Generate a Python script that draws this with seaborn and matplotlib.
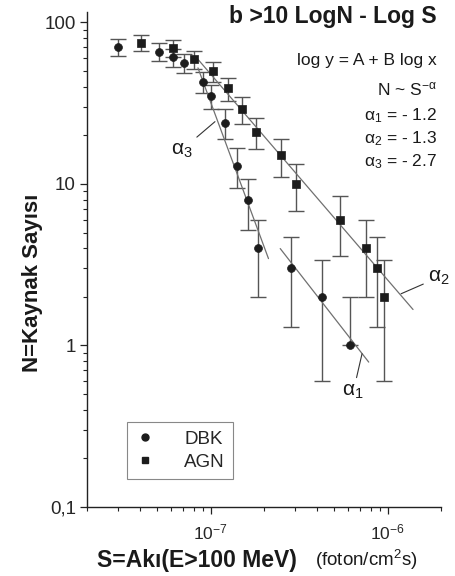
import numpy as np
import pandas as pd
import matplotlib
matplotlib.use("Agg")
import matplotlib.pyplot as plt
import seaborn as sns
from matplotlib.lines import Line2D
from matplotlib.ticker import FixedLocator, FixedFormatter, LogLocator, NullFormatter

# ---------------- data ----------------
dbk_S = [3.0e-8, 5.1e-8, 6.1e-8, 7.1e-8, 9.1e-8, 1.0e-7, 1.21e-7, 1.41e-7, 1.63e-7, 1.86e-7, 2.84e-7, 4.25e-7, 6.1e-7]
dbk_N = [70, 66, 61, 56, 43, 35, 24, 13, 8, 4, 3, 2, 1]
dbk_err_lo = [8.4, 8.1, 7.8, 7.5, 6.6, 5.9, 4.9, 3.6, 2.8, 2.0, 1.7, 1.4, 0.0]
dbk_err_hi = [8.4, 8.1, 7.8, 7.5, 6.6, 5.9, 4.9, 3.6, 2.8, 2.0, 1.7, 1.4, 1.0]

agn_S = [4.05e-8, 6.1e-8, 8.07e-8, 1.03e-7, 1.26e-7, 1.51e-7, 1.81e-7, 2.51e-7, 3.03e-7, 5.37e-7, 7.5e-7, 8.7e-7, 9.5e-7]
agn_N = [75, 69, 59, 50, 39, 29, 21, 15, 10, 6, 4, 3, 2]
agn_err = [8.7, 8.3, 7.7, 7.1, 6.2, 5.4, 4.6, 3.9, 3.2, 2.4, 2.0, 1.7, 1.4]

# fitted power-law lines (end points, data units)
fit1_S = [2.47e-7, 7.81e-7]
fit1_N = [3.98, 0.789]
fit2_S = [8.25e-8, 1.39e-6]
fit2_N = [61.1, 1.67]
fit3_S = [8.47e-8, 2.12e-7]
fit3_N = [52.3, 3.45]

y_ticks = [0.1, 1, 10, 100]
y_ticklabels = ["0,1", "1", "10", "100"]
x_ticks = [1e-7, 1e-6]
x_ticklabels = ["$10^{-7}$", "$10^{-6}$"]

title = "b >10 LogN - Log S"
eq_lines = ["log y = A + B log x", r"N ~ S$^{-\alpha}$",
            r"$\alpha_1$ = - 1.2", r"$\alpha_2$ = - 1.3", r"$\alpha_3$ = - 2.7"]
ylabel = "N=Kaynak Sayısı"
xlabel_bold = "S=Akı(E>100 MeV)"
xlabel_unit = "(foton/cm$^2$s)"

# ---------------- style ----------------
sns.set_style("ticks")
plt.rcParams["font.family"] = ["Liberation Sans", "DejaVu Sans"]
plt.rcParams["mathtext.fontset"] = "custom"
plt.rcParams["mathtext.rm"] = "Liberation Sans"
plt.rcParams["mathtext.it"] = "Liberation Sans:italic"
plt.rcParams["mathtext.bf"] = "Liberation Sans:bold"
plt.rcParams["mathtext.default"] = "regular"

W, H = 455, 576
fig = plt.figure(figsize=(W / 100, H / 100), dpi=100)
ax = fig.add_axes([87 / W, 1 - 507 / H, (441 - 87) / W, (507 - 12) / H])

df = pd.concat([
    pd.DataFrame({"S": dbk_S, "N": dbk_N, "Tip": "DBK"}),
    pd.DataFrame({"S": agn_S, "N": agn_N, "Tip": "AGN"}),
], ignore_index=True)

ax.set_xscale("log")
ax.set_yscale("log")

err_col = "#555555"
mk_col = "#1c1c1c"
ax.errorbar(dbk_S, dbk_N, yerr=[dbk_err_lo, dbk_err_hi], fmt="none",
            ecolor=err_col, elinewidth=1.0, capsize=6, capthick=1.0, zorder=2)
ax.errorbar(agn_S, agn_N, yerr=[agn_err, agn_err], fmt="none",
            ecolor=err_col, elinewidth=1.0, capsize=6, capthick=1.0, zorder=2)

line_col = "#707070"
for xs, ys in [(fit1_S, fit1_N), (fit2_S, fit2_N), (fit3_S, fit3_N)]:
    sns.lineplot(x=xs, y=ys, ax=ax, color=line_col, lw=0.9, zorder=3)

sns.scatterplot(data=df[df.Tip == "DBK"], x="S", y="N", marker="o", s=32,
                color=mk_col, edgecolor=mk_col, linewidth=0.5, ax=ax, zorder=4, legend=False)
sns.scatterplot(data=df[df.Tip == "AGN"], x="S", y="N", marker="s", s=27,
                color=mk_col, edgecolor=mk_col, linewidth=0.5, ax=ax, zorder=4, legend=False)

ax.set_xlim(2e-8, 2e-6)
ax.set_ylim(0.1, 116)

# ticks
ax.yaxis.set_major_locator(FixedLocator(y_ticks))
ax.yaxis.set_major_formatter(FixedFormatter(y_ticklabels))
ax.yaxis.set_minor_locator(LogLocator(base=10, subs=np.arange(2, 10)))
ax.yaxis.set_minor_formatter(NullFormatter())
ax.xaxis.set_major_locator(FixedLocator(x_ticks))
ax.xaxis.set_major_formatter(FixedFormatter(x_ticklabels))
ax.xaxis.set_minor_locator(LogLocator(base=10, subs=np.arange(2, 10)))
ax.xaxis.set_minor_formatter(NullFormatter())
ax.tick_params(axis="both", which="major", direction="out", length=5, width=0.9, color="#222")
ax.tick_params(axis="both", which="minor", direction="out", length=3, width=0.8, color="#222")
ax.tick_params(axis="y", which="major", labelsize=13.5, pad=3)
ax.tick_params(axis="x", which="major", labelsize=12.5, pad=6)

for s in ["top", "right"]:
    ax.spines[s].set_visible(False)
for s in ["left", "bottom"]:
    ax.spines[s].set_linewidth(1.0)
    ax.spines[s].set_color("#222")
ax.set_xlabel("")
ax.set_ylabel("")

# labels
fig.text(33 / W, 1 - 283 / H, ylabel, rotation=90, ha="center", va="center",
         fontsize=16, fontweight="bold", color="#1a1a1a")
fig.text(97 / W, 1 - 560 / H, xlabel_bold, ha="left", va="center",
         fontsize=16.5, fontweight="bold", color="#1a1a1a")
fig.text(315 / W, 1 - 560 / H, xlabel_unit, ha="left", va="center",
         fontsize=13.5, color="#1a1a1a")

fig.text(437 / W, 1 - 23.5 / H, title, ha="right", va="baseline",
         fontsize=16.5, fontweight="bold", color="#1a1a1a")
eq_base = [65.5, 95.5, 120, 143, 166]
for t, yb in zip(eq_lines, eq_base):
    fig.text(437 / W, 1 - yb / H, t, ha="right", va="baseline", fontsize=12.5, color="#1a1a1a")

# alpha labels with leader lines
ann_kw = dict(ha="center", va="center", fontsize=15, math_fontfamily="stix", color="#1a1a1a",
              arrowprops=dict(arrowstyle="-", color="#333", lw=0.8, shrinkA=1, shrinkB=0))
ax.annotate(r"$\alpha_3$", xy=(1.057e-7, 24.3), xytext=(6.85e-8, 16.2), **ann_kw)
ax.annotate(r"$\alpha_2$", xy=(1.19e-6, 2.09), xytext=(1.94e-6, 2.64), annotation_clip=False, **ann_kw)
ax.annotate(r"$\alpha_1$", xy=(7.16e-7, 0.889), xytext=(6.39e-7, 0.517), **ann_kw)

# legend
handles = [Line2D([], [], ls="none", marker="o", ms=5, color=mk_col),
           Line2D([], [], ls="none", marker="s", ms=5, color=mk_col)]
leg = ax.legend(handles, ["DBK", "AGN"], loc="lower left", bbox_to_anchor=(0.113, 0.0566),
                borderaxespad=0, frameon=True, fancybox=False, framealpha=1, edgecolor="#888",
                fontsize=13.5, handlelength=1.0, handletextpad=1.6, labelspacing=0.3,
                borderpad=0.45)
leg.get_frame().set_linewidth(0.8)

fig.savefig("out.png", dpi=100)
